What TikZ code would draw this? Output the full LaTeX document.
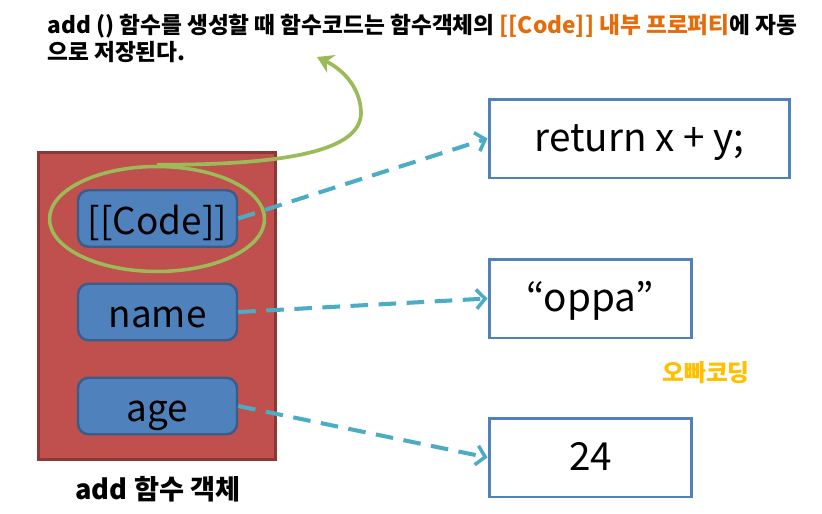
\documentclass[tikz,border=0pt]{standalone}
\usepackage{fontspec}
\setmainfont{Noto Sans CJK KR}
\usetikzlibrary{arrows.meta,positioning,shapes.geometric}
\definecolor{objred}{HTML}{C0504D}
\definecolor{objedge}{HTML}{8C3836}
\definecolor{slotblue}{HTML}{4F81BD}
\definecolor{slotedge}{HTML}{385D8A}
\definecolor{ringgreen}{HTML}{9BBB59}
\definecolor{linkcyan}{HTML}{4BACC6}
\definecolor{noteorange}{HTML}{E46C0A}
\definecolor{markgold}{HTML}{FFC000}

\begin{document}
\begin{tikzpicture}[x=0.02cm, y=-0.02cm,
    objbox/.style={draw=objedge, fill=objred, line width=1.7pt, minimum width=4.76cm, minimum height=6.16cm},
    slot/.style={draw=slotedge, fill=slotblue, line width=1.4pt, rounded corners=6pt,
                 minimum width=3.18cm, minimum height=1.13cm, inner sep=0pt,
                 text height=20pt, text depth=2pt, font=\fontsize{21}{24}\selectfont},
    valbox/.style={draw=slotblue, fill=white, line width=1.7pt, minimum height=1.58cm,
                   inner sep=0pt, text height=17pt, text depth=2pt, font=\fontsize{22}{26}\selectfont},
    link/.style={-{Straight Barb[length=5pt, width=11pt, line width=2pt]}, linkcyan,
                 line width=2.3pt, dash pattern=on 10pt off 6pt},
]
\useasboundingbox (0,0) rectangle (822,514);

% function object
\node[objbox] (obj) at (157,306) {};
\node[draw=ringgreen, line width=2pt, ellipse, minimum width=4.3cm, minimum height=2.1cm,
      inner sep=0pt] (ring) at (157,219) {};
\node[slot] (code) at (157.5,218.5) {[[Code]]};
\node[slot] (name) at (157.5,312) {name};
\node[slot] (age) at (157.5,406) {age};
\node[font=\fontsize{15.5}{18}\selectfont\bfseries] (cap) at (158,489) {add 함수 객체};

% values
\node[valbox, minimum width=6.02cm] (ret) at (639.5,138.5) {return x + y;};
\node[valbox, minimum width=4.06cm] (oppa) at (590.5,298.5) {“oppa”};
\node[valbox, minimum width=4.06cm] (num) at (590.5,457.5) {24};
\node[font=\fontsize{13.5}{16}\selectfont\bfseries, text=markgold] (mark) at (706,373) {오빠코딩};

\draw[link] (code.east) -- (ret.west);
\draw[link] (name.east) -- (oppa.west);
\draw[link] (age.east) -- (num.west);

% note
\node[anchor=north west, align=left, font=\fontsize{12.9}{15.5}\selectfont\bfseries,
      inner sep=0pt] (note) at (47,14)
  {add () 함수를 생성할 때 함수코드는 함수객체의 \textcolor{noteorange}{[[Code]] 내부 프로퍼티}에 자동\\
   으로 저장된다.};
\coordinate (tip) at (317,57);
\draw[ringgreen, line width=2.1pt, -{Stealth[length=9pt, width=11pt]}]
  (ring.north) .. controls (290,165) and (362,150) .. (361,112)
  .. controls (360,85) and (340,68) .. (tip);
\end{tikzpicture}
\end{document}
